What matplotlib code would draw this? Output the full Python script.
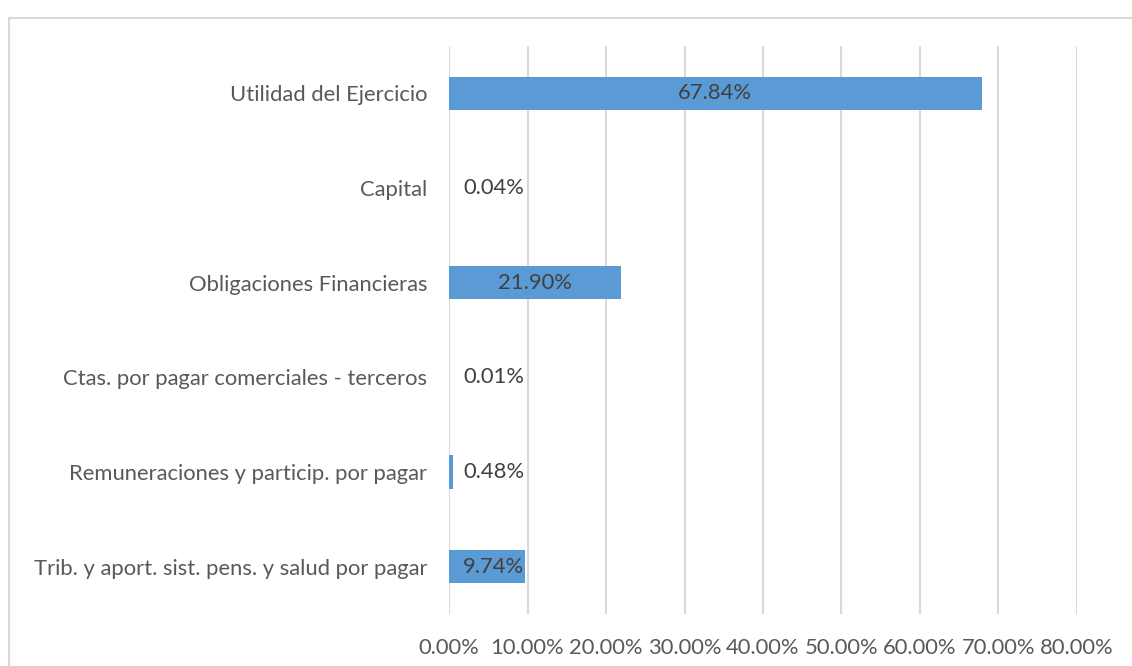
import matplotlib
matplotlib.use("Agg")
import matplotlib.pyplot as plt
from matplotlib.patches import Rectangle
from matplotlib.ticker import FuncFormatter

categories = [
    "Utilidad del Ejercicio",
    "Capital",
    "Obligaciones Financieras",
    "Ctas. por pagar comerciales - terceros",
    "Remuneraciones y particip. por pagar",
    "Trib. y aport. sist. pens. y salud por pagar",
]
values = [67.84, 0.04, 21.90, 0.01, 0.48, 9.74]
x_ticks = [0, 10, 20, 30, 40, 50, 60, 70, 80]

plt.rcParams['font.family'] = ['Lato', 'DejaVu Sans']
W, H = 1132, 666
FS = 15.8
fig = plt.figure(figsize=(W / 100, H / 100), dpi=100)
ax = fig.add_axes([449 / W, 1 - 614 / H, (1077 - 449) / W, (614 - 46) / H])

ypos = list(range(len(categories)))[::-1]
ax.barh(ypos, values, height=0.35, color="#5B9BD5", zorder=3)

ax.set_xlim(0, 80)
ax.set_ylim(-0.5, len(categories) - 0.5)
ax.set_xticks(x_ticks)
ax.xaxis.set_major_formatter(FuncFormatter(lambda v, p: f"{v:.2f}%"))
ax.set_yticks(ypos)
ax.set_yticklabels(categories)
ax.grid(axis="x", color="#D9D9D9", linewidth=1.5, zorder=0)
ax.set_axisbelow(True)
for s in ax.spines.values():
    s.set_visible(False)
ax.tick_params(axis="both", length=0, colors="#595959", labelsize=FS)
ax.tick_params(axis="y", pad=15.5)
ax.tick_params(axis="x", pad=17)

for y, v in zip(ypos, values):
    if v > 15:
        ax.text(v / 2, y, f"{v:.2f}%", ha="center", va="center", color="#404040", fontsize=FS, zorder=4)
    else:
        ax.annotate(f"{v:.2f}%", xy=(0, y), xytext=(10, 0), textcoords="offset points",
                    ha="left", va="center", color="#404040", fontsize=FS, zorder=4)

fig.patches.append(Rectangle((8.5 / W, -0.1), 1.2, 1.1 - 17.5 / H, transform=fig.transFigure,
                             fill=False, edgecolor="#D9D9D9", linewidth=1.5))

fig.savefig("out.png", dpi=100)
